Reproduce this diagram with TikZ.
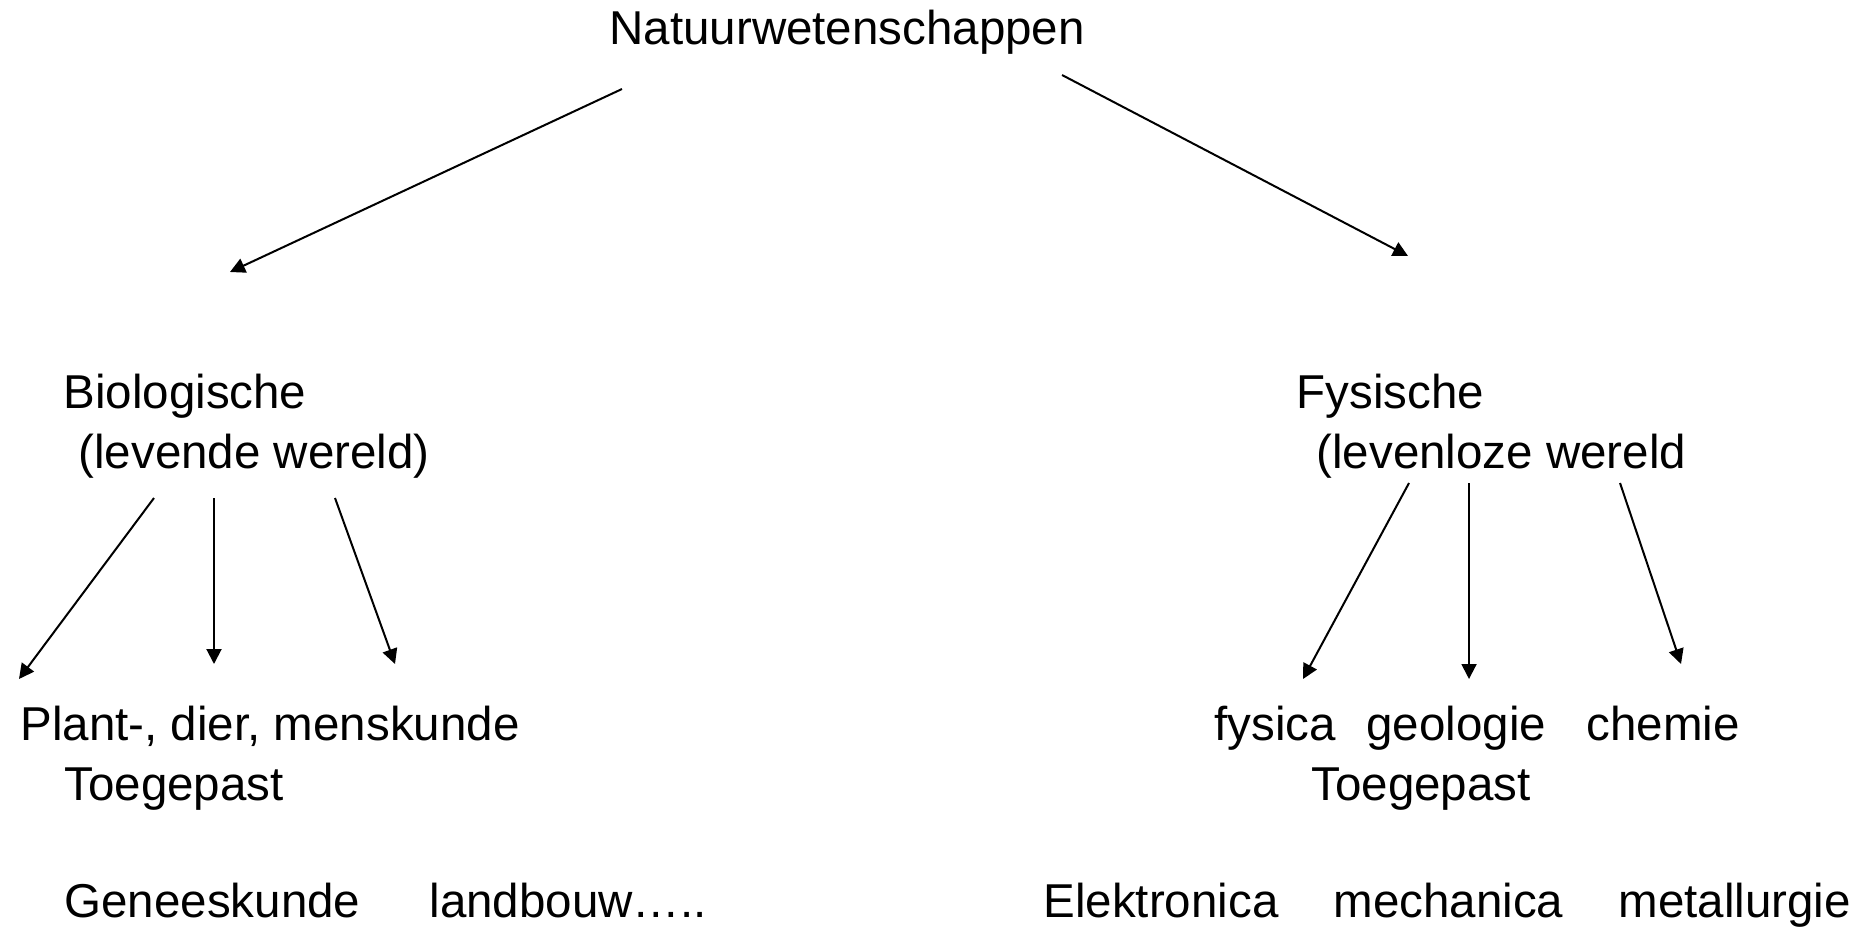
\documentclass[tikz,border=0pt]{standalone}
\usepackage{fontspec}
\setmainfont{Liberation Sans}
\usetikzlibrary{arrows.meta}
\begin{document}
\begin{tikzpicture}[x=0.4pt,y=-0.4pt,
  lbl/.style={anchor=base west,inner sep=0pt,font=\fontsize{19}{22.8}\selectfont},
  arr/.style={line width=0.8pt,-{Triangle[length=6pt,width=6pt]}}]
\useasboundingbox (0,0) rectangle (1870,926);
% texts
\node[lbl] (top) at (609,45) {Natuurwetenschappen};
\node[lbl] (bio) at (63,408) {Biologische};
\node[lbl] (bio2) at (78,468) {(levende wereld)};
\node[lbl] (fys) at (1296,408) {Fysische};
\node[lbl] (fys2) at (1316,468) {(levenloze wereld};
\node[lbl] (plant) at (20,740) {Plant-, dier, menskunde};
\node[lbl] (toegL) at (64,800) {Toegepast};
\node[lbl] (genees) at (64,917) {Geneeskunde};
\node[lbl] (landb) at (429,917) {landbouw…..};
\node[lbl] (fysica) at (1214,740) {fysica};
\node[lbl] (geol) at (1366,740) {geologie};
\node[lbl] (chem) at (1586,740) {chemie};
\node[lbl] (toegR) at (1311,800) {Toegepast};
\node[lbl] (elek) at (1043,917) {Elektronica};
\node[lbl] (mech) at (1333,917) {mechanica};
\node[lbl] (metal) at (1618,917) {metallurgie};
% arrow endpoints
\coordinate (tA) at (622,89);
\coordinate (tB) at (1062,75);
\coordinate (bioIn) at (230,272);
\coordinate (fysIn) at (1408,256);
\coordinate (b1s) at (154,498); \coordinate (b1e) at (19,679);
\coordinate (b2s) at (214,498); \coordinate (b2e) at (214,664);
\coordinate (b3s) at (335,498); \coordinate (b3e) at (395,664);
\coordinate (f1s) at (1409,483); \coordinate (f1e) at (1303,679);
\coordinate (f2s) at (1469,483); \coordinate (f2e) at (1469,679);
\coordinate (f3s) at (1620,483); \coordinate (f3e) at (1681,664);
% arrows
\draw[arr] (tA) -- (bioIn);
\draw[arr] (tB) -- (fysIn);
\draw[arr] (b1s) -- (b1e);
\draw[arr] (b2s) -- (b2e);
\draw[arr] (b3s) -- (b3e);
\draw[arr] (f1s) -- (f1e);
\draw[arr] (f2s) -- (f2e);
\draw[arr] (f3s) -- (f3e);
\end{tikzpicture}
\end{document}
